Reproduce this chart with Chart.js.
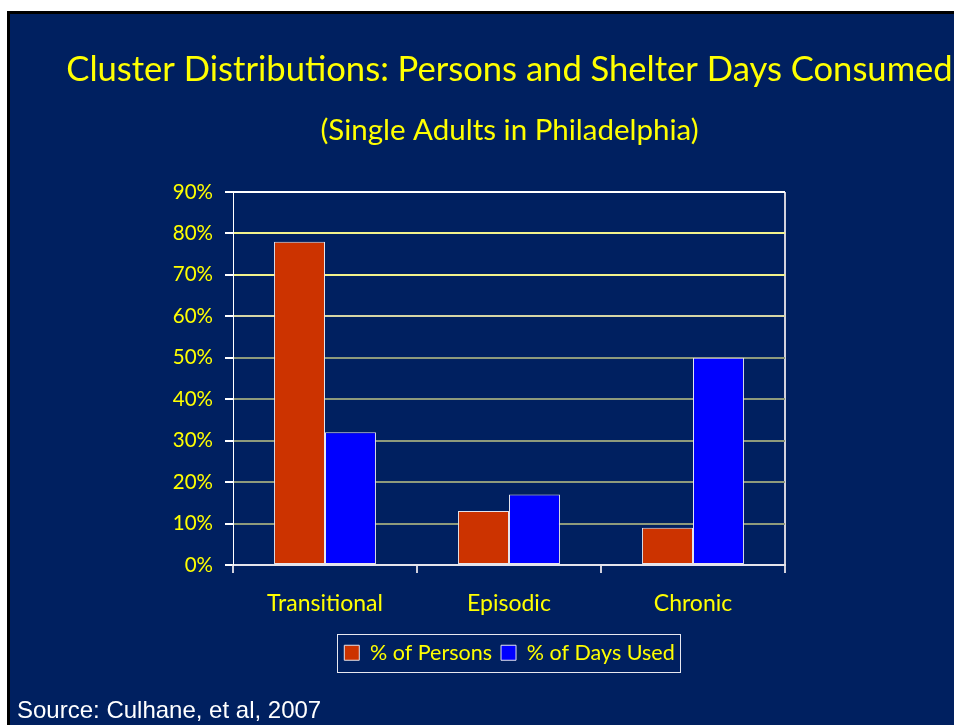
<!DOCTYPE html>
<html>
<head>
<meta charset="utf-8">
<title>Cluster Distributions</title>
<script src="https://cdn.jsdelivr.net/npm/chart.js@4.4.0/dist/chart.umd.min.js"></script>
<style>
  html, body { margin: 0; padding: 0; background: #fff; width: 954px; height: 725px; overflow: hidden; }
  #slide {
    position: absolute; left: 7px; top: 11px; width: 947px; height: 714px;
    box-sizing: border-box; background: #002060;
    border-left: 3px solid #000; border-top: 3px solid #000;
  }
  #chart { position: absolute; left: 0; top: 0; }
  #source {
    position: absolute; left: 17px; top: 698px; color: #fff;
    font: 24px/24px "Liberation Sans", Arial, sans-serif; white-space: nowrap;
  }
</style>
</head>
<body>
<div id="slide"></div>
<canvas id="chart" width="954" height="725"></canvas>
<div id="source">Source: Culhane, et al, 2007</div>
<script>
const categories = ['Transitional', 'Episodic', 'Chronic'];
const personsPct = [78, 13, 9];
const daysUsedPct = [32, 17, 50];
const yMax = 90;
const yStep = 10;

const YELLOW = '#ffff00';
const FONT = 'Lato, "Open Sans", sans-serif';

// Gridlines fade from pale yellow near the top to a grey-olive lower down
function gridColor(ctx) {
    if (ctx.type !== 'tick') return '#ffffff';
    const v = ctx.tick.value;
    if (v === yMax || v === 0) return '#ffffff';
    if (v >= 70) return '#f2f28c';
    if (v >= 60) return '#d6d6a6';
    return '#8e9a7c';
}

// Draw a thin frame around the legend items
const legendFrame = {
    id: 'legendFrame',
    afterDraw(chart) {
        const boxes = chart.legend.legendHitBoxes;
        if (!boxes || !boxes.length) return;
        let l = Infinity, r = -Infinity, t = Infinity, b = -Infinity;
        boxes.forEach(h => {
            l = Math.min(l, h.left);
            r = Math.max(r, h.left + h.width);
            t = Math.min(t, h.top);
            b = Math.max(b, h.top + h.height);
        });
        const ctx = chart.ctx;
        ctx.save();
        ctx.strokeStyle = '#e8e8f0';
        ctx.lineWidth = 1;
        ctx.strokeRect(Math.round(l - 7) + 0.5, Math.round(t - 8) + 0.5, Math.round(r - l + 13), Math.round(b - t + 16));
        ctx.restore();
    }
};

const ctxChart = document.getElementById('chart').getContext('2d');
const chart = new Chart(ctxChart, {
    type: 'bar',
    data: {
        labels: categories,
        datasets: [{
            label: '% of Persons',
            data: personsPct,
            backgroundColor: '#cc3300',
            borderColor: '#e4e4ec',
            borderWidth: 1,
            borderSkipped: false
        }, {
            label: '% of Days Used',
            data: daysUsedPct,
            backgroundColor: '#0000ff',
            borderColor: '#e4e4ec',
            borderWidth: 1,
            borderSkipped: false
        }]
    },
    options: {
        responsive: false,
        animation: false,
        layout: {
            padding: { left: 65, right: 0, top: 0, bottom: 51.5 }
        },
        datasets: {
            bar: { categoryPercentage: 0.554, barPercentage: 1 }
        },
        plugins: {
            title: {
                display: true,
                text: 'Cluster Distributions: Persons and Shelter Days Consumed',
                color: YELLOW,
                font: { family: FONT, size: 34.6, weight: 'normal' },
                padding: { top: 49, bottom: 0 }
            },
            subtitle: {
                display: true,
                text: '(Single Adults in Philadelphia)',
                color: YELLOW,
                font: { family: FONT, size: 29.5, weight: 'normal' },
                padding: { top: 22.5, bottom: 43.5 }
            },
            legend: {
                position: 'bottom',
                labels: {
                    color: YELLOW,
                    font: { family: FONT, size: 21.5 },
                    boxWidth: 15,
                    boxHeight: 15,
                    padding: 9
                }
            },
            tooltip: { enabled: false }
        },
        scales: {
            x: {
                afterFit(scale) { scale.height = 68; },
                border: { color: '#e4e4ec', width: 2 },
                grid: {
                    color: ctx => (ctx.type !== 'tick' ? '#d0d0dc' : 'transparent'),
                    tickColor: '#d0d0dc',
                    tickLength: 8,
                    lineWidth: 2
                },
                ticks: {
                    color: YELLOW,
                    font: { family: FONT, size: 23 },
                    padding: 17
                }
            },
            y: {
                min: 0,
                max: yMax,
                afterFit(scale) { scale.width = 168; },
                border: { color: '#ffffff', width: 1 },
                grid: {
                    color: gridColor,
                    tickColor: '#ffffff',
                    tickLength: 8,
                    lineWidth: 2
                },
                ticks: {
                    stepSize: yStep,
                    color: YELLOW,
                    font: { family: FONT, size: 20.5 },
                    padding: 12,
                    callback: v => v + '%'
                }
            },
            // empty right-hand gutter so the plot sits left of centre
            gutter: {
                type: 'linear',
                position: 'right',
                afterFit(scale) { scale.width = 169; },
                grid: { display: false },
                border: { display: false },
                ticks: { display: false }
            }
        }
    },
    plugins: [legendFrame]
});
</script>
</body>
</html>
